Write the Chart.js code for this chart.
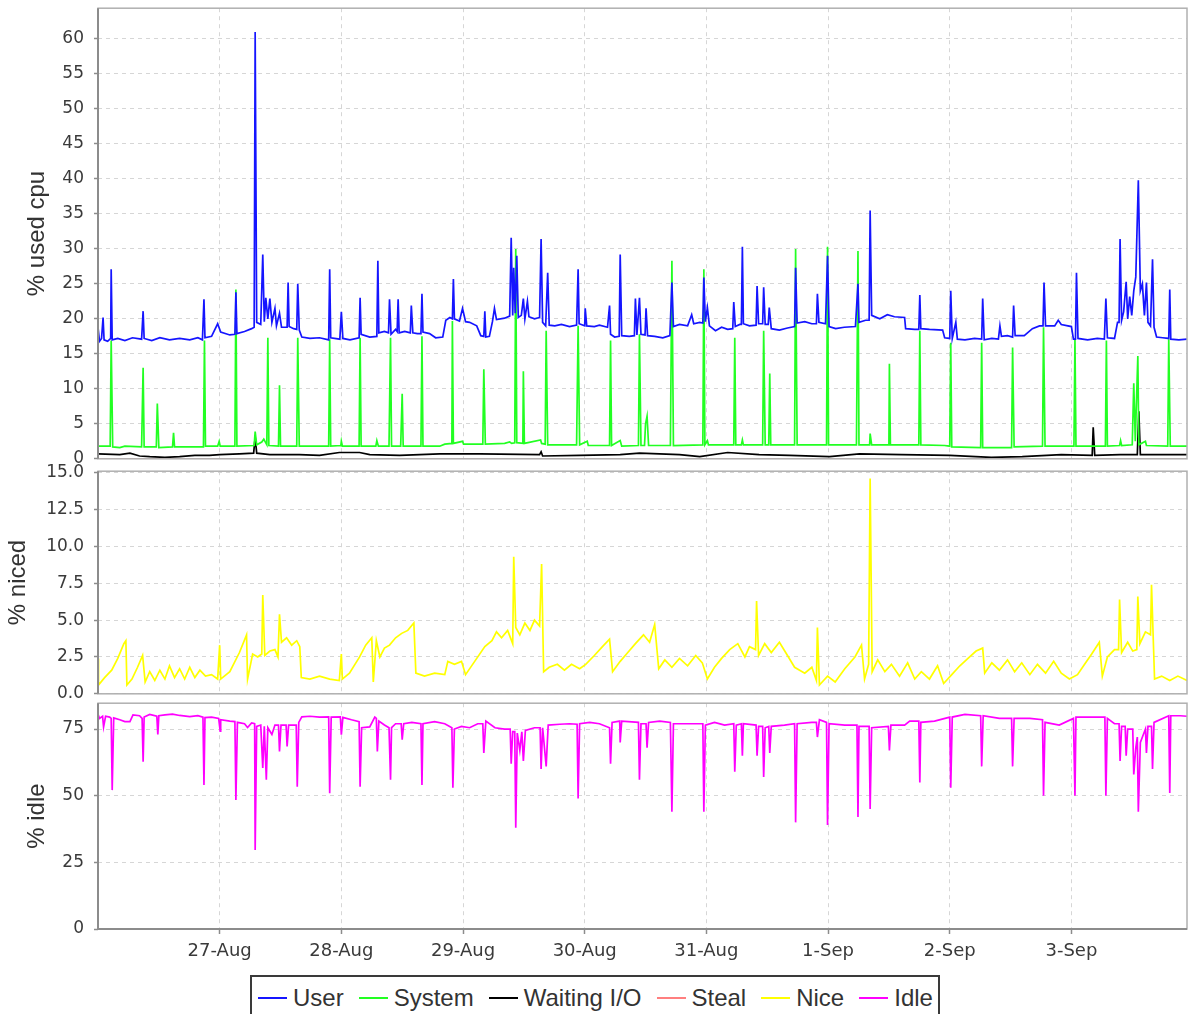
<!DOCTYPE html>
<html><head><meta charset="utf-8">
<script src="https://cdn.jsdelivr.net/npm/chart.js@4.4.1/dist/chart.umd.min.js"></script>
<style>
html,body{margin:0;padding:0;background:#fff;}
#wrap{position:relative;width:1188px;height:1014px;overflow:hidden;background:#fff;}
#wrap canvas{position:absolute;left:0;}
#legend{position:absolute;left:250px;top:975px;width:690px;height:46px;border:2px solid #3a3a3a;box-sizing:border-box;display:flex;align-items:center;font-family:"Liberation Sans",Arial,sans-serif;font-size:24px;color:#333;white-space:nowrap;padding-left:6px;}
.item{display:flex;align-items:center;margin-right:15px;}
.sw{width:29px;height:2px;margin-right:6px;}
</style></head>
<body>
<div id="wrap">
  <canvas id="c1" width="1188" height="480" style="top:0px"></canvas>
  <canvas id="c2" width="1188" height="260" style="top:462px"></canvas>
  <canvas id="c3" width="1188" height="290" style="top:700px"></canvas>
  <div id="legend"></div>
</div>
<script>
// ---- data (x = hours since 26-Aug 00:00) ----
const dayLabels = ['27-Aug','28-Aug','29-Aug','30-Aug','31-Aug','1-Sep','2-Sep','3-Sep'];
const dayTickHours = [24,48,72,96,120,144,168,192];
const seriesNames = ['User','System','Waiting I/O','Steal','Nice','Idle'];

const userData = [[0,18.8],[0.3,16.8],[0.7,17.2],[1.0,20.2],[1.2,17.0],[1.9,16.8],[2.5,17.2],[2.6,27.1],[2.8,17.0],[3.9,17.2],[5.3,16.9],[6.8,17.3],[8.6,17.1],[8.9,21.1],[9.1,17.2],[10.6,16.9],[12.2,17.3],[14.1,17.0],[16.1,17.2],[18.1,17.0],[19.7,17.3],[20.6,17.0],[20.9,22.8],[21.1,17.3],[22.4,17.5],[23.6,19.3],[24.2,18.1],[26.0,17.7],[27.0,17.8],[27.2,23.8],[27.4,17.9],[28.9,18.2],[30.3,18.6],[30.8,18.8],[31.0,61.0],[31.3,19.5],[32.1,19.2],[32.5,29.2],[32.8,19.6],[33.1,23.0],[33.5,20.0],[33.9,22.9],[34.3,19.5],[34.9,21.5],[35.2,19.0],[35.8,20.8],[36.2,18.8],[37.3,18.8],[37.5,25.2],[37.7,18.9],[38.6,18.6],[39.2,18.5],[39.4,25.0],[39.7,18.4],[40.2,17.4],[41.8,17.2],[43.7,17.3],[45.5,17.0],[45.7,27.1],[45.9,17.3],[47.7,17.1],[48.0,21.0],[48.3,17.2],[49.7,17.0],[51.5,17.3],[51.7,23.0],[51.9,17.8],[53.6,17.4],[55.0,17.5],[55.2,28.3],[55.4,18.0],[56.5,18.2],[57.3,18.0],[57.5,22.8],[57.8,17.8],[58.7,18.5],[59.0,18.2],[59.2,22.8],[59.4,18.0],[60.5,18.2],[61.6,18.0],[61.8,21.9],[62.1,18.0],[63.0,17.9],[63.7,17.9],[63.9,23.6],[64.1,18.1],[65.4,17.9],[66.6,17.3],[68.0,17.4],[68.6,19.8],[69.4,20.2],[69.9,20.0],[70.1,25.7],[70.3,20.0],[71.3,19.7],[71.9,21.5],[72.5,19.6],[73.3,19.5],[74.7,19.0],[75.5,17.6],[76.1,17.5],[76.3,21.1],[76.5,17.4],[77.2,17.5],[77.8,19.6],[78.2,21.5],[78.6,19.9],[80.2,20.1],[81.2,20.4],[81.5,31.6],[81.8,20.5],[82.0,27.3],[82.3,20.8],[82.6,29.0],[82.9,20.2],[83.5,20.5],[83.9,22.9],[84.2,20.0],[84.7,22.5],[85.0,20.3],[86.1,20.0],[87.1,20.2],[87.4,31.4],[87.7,19.5],[88.3,19.0],[88.7,26.6],[89.0,19.1],[90.1,19.0],[91.4,19.2],[93.0,18.9],[94.4,19.1],[94.7,27.1],[94.9,19.3],[96.0,19.0],[96.1,21.5],[96.4,19.0],[97.9,18.9],[98.9,19.1],[100.5,18.8],[100.9,21.9],[101.1,17.8],[101.9,17.4],[102.8,17.5],[103.0,29.2],[103.3,17.6],[104.8,17.5],[105.8,17.6],[106.0,22.9],[106.3,17.7],[106.8,23.0],[107.1,17.8],[107.9,17.7],[108.1,21.5],[108.4,17.6],[109.8,17.5],[111.4,17.3],[112.8,17.6],[113.2,25.2],[113.5,18.9],[114.7,19.2],[116.3,19.0],[117.1,20.6],[117.5,19.3],[118.7,19.5],[119.3,19.4],[119.5,25.9],[119.8,19.6],[120.2,21.6],[120.6,19.0],[121.8,18.3],[123.0,18.8],[124.2,18.5],[125.2,18.6],[125.4,22.4],[125.7,18.9],[126.6,19.2],[126.9,19.2],[127.1,30.3],[127.3,19.3],[128.5,19.0],[129.8,19.1],[130.0,24.7],[130.3,19.3],[131.1,19.3],[131.3,24.5],[131.6,19.2],[132.2,19.2],[132.4,21.6],[132.8,18.6],[134.4,18.4],[136.0,18.7],[137.4,18.9],[137.6,27.3],[137.9,19.4],[139.4,19.6],[140.8,19.3],[141.7,19.3],[141.9,23.6],[142.2,19.5],[143.5,19.3],[143.9,29.0],[144.2,18.9],[145.5,18.6],[147.2,18.8],[149.4,18.9],[149.9,25.0],[150.1,19.5],[151.4,19.8],[152.1,19.8],[152.3,35.5],[152.6,20.5],[154.2,20.0],[155.7,20.6],[157.1,20.3],[159.1,20.2],[159.3,18.6],[161.1,18.5],[161.9,18.5],[162.1,23.4],[162.3,18.6],[164.0,18.5],[166.6,18.4],[167.0,17.3],[168.0,17.2],[168.2,24.0],[168.5,17.2],[169.2,19.5],[169.5,17.1],[171.0,17.0],[172.9,17.2],[174.3,17.1],[174.5,22.9],[174.8,17.0],[176.3,17.2],[177.6,17.1],[177.9,19.0],[178.2,17.5],[179.4,17.6],[180.4,17.4],[180.6,21.9],[180.9,17.6],[182.7,17.6],[184.3,18.6],[185.7,19.0],[186.4,19.0],[186.6,25.2],[186.9,19.0],[188.7,19.0],[189.4,19.8],[190.0,19.2],[192.0,18.9],[192.4,17.1],[192.8,17.1],[193.0,26.6],[193.3,17.2],[195.2,17.0],[197.1,17.2],[198.5,17.1],[198.8,22.9],[199.1,17.3],[200.5,17.2],[201.1,19.5],[201.4,19.5],[201.6,31.4],[201.9,19.8],[202.3,21.0],[202.8,25.3],[203.1,20.0],[203.5,23.2],[203.9,20.5],[204.3,24.0],[204.7,26.0],[205.2,39.8],[205.6,24.0],[206.0,25.0],[206.4,20.5],[206.8,25.2],[207.1,19.5],[207.6,19.0],[208.0,28.5],[208.3,18.8],[208.8,17.4],[210.0,17.3],[211.2,17.2],[211.4,24.2],[211.6,17.1],[213.2,17.0],[214.8,17.1]];

const systemData = [[0,1.8],[2.4,1.8],[2.6,16.9],[2.9,1.7],[4.3,1.6],[5.3,1.8],[8.6,1.7],[8.9,13.0],[9.1,1.7],[11.5,1.7],[11.7,7.9],[12.0,1.6],[14.7,1.7],[14.9,3.7],[15.1,1.7],[20.8,1.7],[21.0,16.9],[21.2,1.8],[23.6,1.8],[23.9,2.5],[24.1,1.8],[27.0,1.8],[27.2,24.2],[27.4,1.8],[30.8,1.9],[31.0,3.9],[31.3,2.0],[32.3,2.4],[32.7,2.8],[33.3,2.0],[33.5,17.3],[33.7,1.9],[35.6,1.8],[35.8,10.5],[36.0,1.8],[39.2,1.8],[39.4,17.3],[39.7,1.8],[45.5,1.8],[45.7,17.1],[45.9,1.8],[47.9,1.9],[48.0,2.5],[48.2,1.8],[51.5,1.8],[51.7,17.3],[51.9,1.8],[54.8,1.8],[55.0,2.6],[55.3,1.8],[57.4,1.8],[57.7,17.3],[57.9,1.8],[59.7,1.8],[60.0,9.3],[60.2,1.8],[63.7,1.8],[63.9,17.5],[64.1,1.8],[67.4,1.8],[68.4,2.1],[69.8,2.2],[69.9,19.7],[70.1,2.2],[71.9,2.5],[72.1,2.1],[75.9,2.1],[76.1,12.8],[76.4,2.1],[80.2,2.2],[81.2,2.4],[81.6,2.2],[82.2,2.3],[82.4,30.0],[82.6,2.3],[83.8,2.2],[83.9,12.5],[84.1,2.2],[87.3,2.7],[87.5,2.2],[88.2,2.1],[88.4,18.3],[88.7,2.0],[94.4,2.0],[94.7,19.0],[95.0,2.0],[96.5,2.5],[96.7,1.9],[100.9,1.9],[101.1,16.9],[101.3,1.9],[103.0,2.6],[103.3,1.8],[106.6,1.9],[106.8,17.8],[107.1,1.9],[107.8,1.9],[108.0,5.0],[108.3,6.1],[108.6,1.9],[112.9,1.9],[113.2,28.3],[113.5,1.9],[119.3,2.0],[119.5,27.1],[119.7,2.0],[120.2,2.6],[120.4,2.0],[125.4,2.0],[125.6,17.3],[125.8,2.0],[126.9,2.0],[127.1,2.7],[127.3,2.0],[131.1,2.0],[131.3,18.3],[131.6,2.0],[132.3,2.0],[132.5,12.2],[132.7,2.0],[137.4,2.0],[137.6,30.0],[137.9,2.0],[143.7,2.0],[143.9,30.3],[144.1,2.0],[149.6,2.0],[149.9,29.7],[150.1,2.0],[152.2,2.0],[152.3,3.6],[152.6,2.0],[156.0,2.0],[156.1,13.6],[156.3,2.0],[161.9,2.0],[162.1,18.3],[162.3,2.0],[167.0,1.9],[168.0,1.8],[168.2,16.6],[168.4,1.7],[174.1,1.6],[174.3,16.6],[174.5,1.6],[180.2,1.6],[180.4,15.9],[180.7,1.7],[186.3,1.8],[186.5,18.8],[186.8,1.8],[192.5,1.8],[192.7,17.1],[192.9,1.8],[198.7,1.8],[198.9,16.9],[199.1,1.8],[201.5,1.9],[201.7,2.6],[201.9,1.9],[204.0,2.0],[204.3,10.8],[204.6,2.5],[205.1,14.7],[205.3,2.0],[206.6,2.5],[206.8,1.9],[211.0,1.8],[211.2,17.1],[211.5,1.8],[214.8,1.8]];

const iowaitData = [[0,0.7],[4.3,0.6],[6.3,0.8],[8.2,0.4],[10.2,0.3],[13.2,0.2],[16.1,0.3],[19.1,0.5],[22.0,0.5],[24.0,0.6],[27.9,0.7],[30.7,0.8],[31.0,3.1],[31.3,0.8],[33.9,0.6],[39.7,0.6],[43.7,0.5],[47.6,0.9],[51.6,0.9],[53.6,0.6],[59.5,0.5],[67.4,0.7],[75.3,0.7],[87.1,0.6],[87.4,1.0],[87.7,0.4],[95.0,0.5],[103.0,0.6],[106.8,0.8],[114.7,0.6],[118.7,0.3],[124.2,0.9],[130.4,0.6],[136.4,0.5],[144.3,0.3],[150.2,0.7],[158.5,0.6],[168.0,0.5],[176.2,0.2],[182.3,0.3],[190.0,0.6],[196.1,0.5],[196.3,4.5],[196.6,0.5],[201.6,0.6],[205.0,0.6],[205.3,6.8],[205.6,0.6],[210.0,0.6],[214.8,0.6]];

const stealData = [[0,0],[214.8,0]];

const niceData = [[0,2.4],[0.1,0.6],[1.3,1.1],[2.7,1.6],[3.9,2.4],[5.1,3.4],[5.5,3.6],[5.7,0.6],[6.7,1.0],[7.8,1.8],[8.8,2.6],[9.3,0.8],[10.2,1.5],[11.2,0.9],[12.2,1.6],[13.2,1.0],[14.1,1.9],[15.1,1.1],[16.1,1.7],[17.1,1.0],[18.1,1.8],[19.1,1.1],[20.1,1.6],[21.2,1.2],[22.4,1.3],[23.6,1.0],[24.0,3.3],[24.2,1.0],[26.0,1.5],[27.9,2.8],[29.3,4.0],[29.5,1.0],[30.5,2.7],[31.5,2.5],[32.3,2.7],[32.5,6.7],[32.9,2.6],[33.9,2.9],[34.9,3.0],[35.5,2.5],[35.8,5.4],[36.2,3.5],[37.2,3.8],[38.2,3.3],[39.2,3.6],[39.8,3.2],[40.1,1.1],[41.8,1.0],[43.7,1.2],[45.7,1.0],[47.6,0.9],[48.0,2.7],[48.2,1.0],[49.6,1.4],[51.6,2.5],[52.8,3.3],[54.0,3.8],[54.3,0.8],[54.9,3.6],[55.6,2.5],[56.5,3.1],[57.5,3.3],[58.7,3.8],[59.9,4.1],[61.1,4.3],[62.3,4.8],[62.7,1.4],[64.4,1.2],[66.4,1.4],[68.4,1.3],[69.0,2.2],[70.3,2.0],[71.7,2.2],[72.5,1.3],[74.3,2.2],[76.3,3.2],[77.7,3.6],[78.6,4.2],[79.6,3.8],[80.8,4.3],[81.8,3.4],[82.0,9.3],[82.4,4.5],[83.2,4.0],[84.2,4.8],[85.2,4.3],[86.1,5.0],[87.1,4.6],[87.5,8.8],[87.9,1.5],[89.0,1.8],[90.6,2.0],[92.0,1.6],[93.4,2.0],[95.0,1.7],[96.2,2.0],[97.9,2.6],[99.5,3.2],[100.9,3.7],[101.5,1.5],[103.0,2.2],[104.5,2.8],[106.0,3.4],[107.6,4.0],[108.8,3.5],[109.8,4.7],[110.6,1.7],[111.8,2.3],[113.2,1.8],[114.7,2.4],[116.3,1.9],[117.9,2.6],[119.2,2.1],[120.2,1.0],[121.6,1.8],[123.0,2.4],[124.6,3.0],[126.2,3.4],[127.6,2.5],[128.5,3.2],[129.7,3.0],[129.9,6.3],[130.3,2.6],[131.5,3.4],[132.8,2.8],[134.4,3.5],[136.0,2.6],[137.4,1.8],[139.4,1.4],[140.8,1.8],[141.7,0.9],[141.9,4.5],[142.3,0.6],[143.9,1.2],[145.4,0.8],[147.3,1.7],[149.3,2.5],[150.6,3.3],[151.2,1.0],[152.0,2.0],[152.3,14.6],[152.7,1.5],[153.8,2.3],[155.2,1.5],[156.5,2.0],[158.1,1.2],[159.7,2.1],[161.1,1.0],[162.4,1.5],[164.0,1.0],[165.6,1.9],[166.8,0.7],[168.4,1.3],[170.0,1.9],[171.6,2.4],[173.2,2.9],[174.5,3.1],[174.9,1.4],[176.3,2.1],[177.8,1.6],[179.4,2.3],[180.8,1.5],[182.2,2.1],[183.8,1.3],[185.3,2.0],[186.9,1.4],[188.5,2.2],[190.0,1.4],[191.6,1.0],[193.2,1.3],[194.6,2.0],[196.0,2.7],[197.5,3.5],[198.1,1.2],[199.1,2.5],[200.5,3.0],[201.3,3.0],[201.5,6.4],[201.9,2.8],[203.1,3.5],[204.1,2.9],[204.9,3.0],[205.1,6.6],[205.5,3.4],[206.6,4.2],[207.6,4.0],[207.8,7.4],[208.4,1.0],[209.8,1.2],[211.4,0.9],[213.0,1.2],[214.8,0.9]];

const idleData = [[0,80.5],[0.3,79.0],[0.9,79.8],[1.1,75.8],[1.5,79.8],[2.3,79.5],[2.6,79.0],[2.8,52.1],[3.1,79.2],[4.3,78.5],[5.3,77.8],[6.3,77.8],[6.9,80.3],[8.2,80.0],[8.7,79.0],[8.9,62.7],[9.1,79.5],[10.2,80.5],[11.6,79.8],[11.8,73.0],[12.0,80.0],[13.2,80.3],[14.7,80.6],[16.1,80.1],[18.1,79.7],[19.7,80.0],[20.7,79.5],[20.9,54.0],[21.1,79.3],[22.4,79.5],[23.8,79.0],[24.1,74.2],[24.2,78.5],[26.0,78.0],[27.0,77.8],[27.2,48.4],[27.5,77.5],[28.9,77.0],[29.5,75.6],[30.3,77.3],[30.9,77.0],[31.0,29.6],[31.3,76.0],[32.1,76.5],[32.5,60.4],[32.8,76.0],[33.2,56.0],[33.5,75.5],[34.3,73.0],[34.9,76.5],[35.6,76.5],[35.8,66.6],[36.1,76.5],[37.1,76.5],[37.3,68.5],[37.6,76.5],[38.6,76.5],[39.1,76.5],[39.3,53.4],[39.6,77.5],[40.2,79.6],[41.8,79.8],[43.7,79.5],[45.5,79.6],[45.7,50.9],[46.0,79.5],[47.8,79.6],[48.0,72.9],[48.3,79.4],[50.0,78.5],[51.5,77.8],[51.7,53.4],[52.0,75.5],[53.6,75.8],[54.6,79.5],[54.9,79.0],[55.1,66.6],[55.4,78.0],[56.5,76.5],[57.4,75.5],[57.7,56.0],[57.9,75.5],[58.7,77.0],[59.8,77.0],[60.0,71.0],[60.3,77.0],[61.9,77.5],[63.7,77.0],[63.9,54.0],[64.1,77.0],[66.4,77.8],[68.4,77.0],[69.8,75.5],[70.0,53.0],[70.3,75.0],[71.7,76.0],[73.3,75.5],[74.9,77.0],[75.9,77.0],[76.1,66.0],[76.5,78.0],[78.3,75.5],[80.2,75.0],[81.3,75.0],[81.5,62.0],[81.8,74.0],[82.2,74.0],[82.4,38.0],[82.7,73.5],[83.2,67.0],[83.6,74.0],[83.9,63.0],[84.3,74.5],[86.1,75.5],[87.2,75.5],[87.4,60.0],[87.7,75.5],[88.4,61.0],[88.8,76.5],[91.1,76.8],[93.0,77.0],[94.5,76.8],[94.7,49.0],[95.0,77.0],[97.0,77.5],[98.9,77.0],[100.9,75.5],[101.1,62.0],[101.4,77.5],[102.9,78.0],[103.0,70.0],[103.3,78.0],[106.6,77.5],[106.8,56.0],[107.1,77.0],[108.1,77.0],[108.3,68.0],[108.6,77.5],[110.8,78.0],[112.9,77.5],[113.2,44.0],[113.5,77.0],[116.3,77.0],[119.3,77.0],[119.5,44.0],[119.8,76.5],[121.6,77.5],[123.6,76.5],[125.4,77.0],[125.6,59.0],[125.9,76.5],[126.9,77.0],[127.1,65.0],[127.3,77.0],[129.8,76.5],[130.0,65.0],[130.3,76.0],[131.1,76.0],[131.3,57.0],[131.6,75.5],[132.3,76.0],[132.5,66.0],[132.8,76.0],[135.4,76.5],[137.4,77.0],[137.6,40.0],[137.9,77.0],[140.8,77.5],[141.7,77.5],[141.9,72.0],[142.3,78.5],[143.7,77.5],[143.9,39.0],[144.2,77.0],[147.3,76.5],[149.7,76.5],[149.9,42.0],[150.1,76.0],[152.1,76.0],[152.3,45.0],[152.6,75.5],[155.9,76.0],[156.1,67.0],[156.4,76.5],[159.1,76.5],[160.1,78.0],[161.9,78.0],[162.1,55.0],[162.3,77.5],[165.0,78.0],[168.0,79.5],[168.2,53.0],[168.5,79.5],[171.0,80.5],[174.1,80.0],[174.3,61.0],[174.6,80.0],[177.8,79.0],[180.2,79.0],[180.4,61.0],[180.7,79.0],[183.8,79.0],[186.3,78.5],[186.5,50.0],[186.8,77.5],[189.6,76.5],[192.4,79.0],[192.7,50.0],[192.9,79.5],[198.6,79.5],[198.8,50.0],[199.1,79.0],[200.5,77.0],[201.4,77.0],[201.6,63.0],[201.9,76.0],[202.6,76.0],[202.8,65.0],[203.1,75.0],[204.1,75.0],[204.3,58.0],[204.7,68.0],[205.0,72.0],[205.2,44.0],[205.6,70.0],[206.6,75.0],[206.8,66.0],[207.1,76.0],[207.8,76.0],[208.0,60.0],[208.3,77.5],[211.2,80.0],[211.4,51.0],[211.6,80.0],[213.5,80.0],[214.8,79.8]];

// ---- styling ----
const colors = {User:'#1515ff', System:'#22ff22', 'Waiting I/O':'#000000', Steal:'#ff7f7f', Nice:'#ffff00', Idle:'#ff00ff'};
const X_MAX = 214.8;
const gridColor = '#d6d6d6';
const tickFont = {family:'"DejaVu Sans", sans-serif', size:17};
const titleFont = {family:'"Liberation Sans", Arial, sans-serif', size:24};
const textColor = '#3a3a3a';

function pts(arr){ return arr.map(p => ({x:p[0], y:p[1]})); }
function ds(name, arr){
  return {label:name, data:pts(arr), borderColor:colors[name], backgroundColor:colors[name],
          borderWidth:1.7, pointRadius:0, tension:0, fill:false};
}

const outline = {
  id:'outline',
  afterDraw(c){
    const a = c.chartArea, ctx = c.ctx;
    ctx.save();
    ctx.strokeStyle = '#b0b0b0'; ctx.lineWidth = 1.5;
    ctx.strokeRect(a.left, a.top, a.right - a.left, a.bottom - a.top);
    ctx.strokeStyle = '#8c8c8c'; ctx.lineWidth = 2;
    ctx.beginPath(); ctx.moveTo(a.left, a.top); ctx.lineTo(a.left, a.bottom);
    if (c.options.showXAxis) { ctx.lineTo(a.right, a.bottom); }
    ctx.stroke();
    ctx.restore();
  }
};

function config(datasets, o){
  const yTicks = o.yTicks;
  return {
    type:'line',
    data:{datasets},
    plugins:[outline],
    options:{
      showXAxis:o.showX,
      responsive:false, animation:false, devicePixelRatio:1,
      layout:{padding:{top:0,right:1,bottom:0,left:0}},
      plugins:{legend:{display:false}, tooltip:{enabled:false}},
      scales:{
        x:{
          type:'linear', min:0, max:X_MAX,
          afterBuildTicks:s => { s.ticks = dayTickHours.map(v => ({value:v})); },
          afterFit:s => { s.height = o.showX ? 36 : 0; },
          grid:{color:gridColor, lineWidth:1, drawTicks:o.showX, tickLength:5, tickColor:'#8c8c8c', tickWidth:1.5, tickBorderDash:[]},
          border:{display:false, dash:[4,4]},
          ticks:{display:o.showX, autoSkip:false, maxRotation:0, padding:7, font:{family:'"DejaVu Sans", sans-serif', size:18}, color:textColor,
                 callback:(v) => { const i = dayTickHours.indexOf(v); return i >= 0 ? dayLabels[i] : ''; }}
        },
        y:{
          type:'linear', min:0, max:o.yMax,
          afterBuildTicks:s => { s.ticks = yTicks.map(v => ({value:v})); },
          afterFit:s => { s.width = 98; },
          grid:{color:gridColor, lineWidth:1, drawTicks:true, tickLength:4, tickColor:'#8c8c8c', tickWidth:1.5, tickBorderDash:[]},
          border:{display:false, dash:[4,4]},
          ticks:{autoSkip:false, padding:10, font:tickFont, color:textColor,
                 callback:(v) => o.decimals ? Number(v).toFixed(1) : String(v)},
          title:{display:true, text:o.title, font:titleFont, color:'#333', padding:{top:o.titlePad, bottom:0}}
        }
      }
    }
  };
}

// build, measure the plot area, then rebuild so the plot area lands on the target rows
function place(id, datasets, o){
  const cv = document.getElementById(id);
  let ch = new Chart(cv, config(datasets, o));
  const a = ch.chartArea;
  const topOff = a.top, botOff = ch.height - a.bottom;
  ch.destroy();
  const h = Math.round(o.plotBottom - o.plotTop + topOff + botOff);
  cv.width = 1188; cv.height = h;
  cv.style.width = '1188px'; cv.style.height = h + 'px';
  ch = new Chart(cv, config(datasets, o));
  cv.style.top = (o.plotTop - ch.chartArea.top) + 'px';
  return ch;
}

const cpuTicks = [0,5,10,15,20,25,30,35,40,45,50,55,60];
const niceTicks = [0,2.5,5,7.5,10,12.5,15];
const idleTicks = [0,25,50,75];

place('c1', [ds('User',userData), ds('System',systemData), ds('Waiting I/O',iowaitData), ds('Steal',stealData)],
      {yMax:64.4, yTicks:cpuTicks, title:'% used cpu', titlePad:23, plotTop:8, plotBottom:459, showX:false});
place('c2', [ds('Nice',niceData)],
      {yMax:15.1, yTicks:niceTicks, decimals:true, title:'% niced', titlePad:4, plotTop:471, plotBottom:694, showX:false});
place('c3', [ds('Idle',idleData)],
      {yMax:84.7, yTicks:idleTicks, title:'% idle', titlePad:23, plotTop:703, plotBottom:929, showX:true});

// legend
const lg = document.getElementById('legend');
seriesNames.forEach(n => {
  const it = document.createElement('div'); it.className = 'item';
  const sw = document.createElement('span'); sw.className = 'sw'; sw.style.background = colors[n];
  const tx = document.createElement('span'); tx.textContent = n;
  it.appendChild(sw); it.appendChild(tx); lg.appendChild(it);
});
</script>
</body></html>
